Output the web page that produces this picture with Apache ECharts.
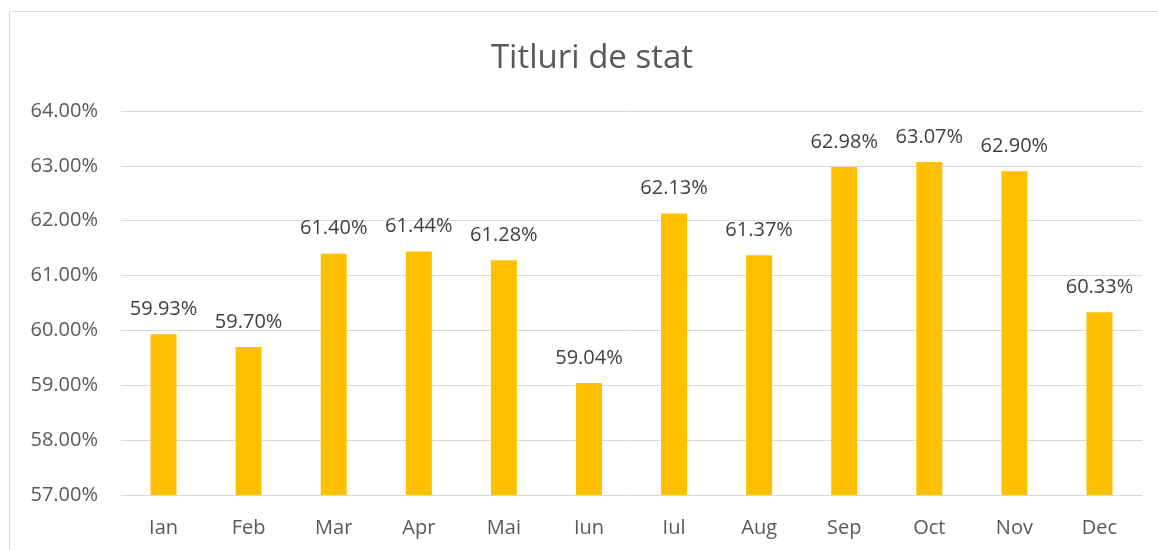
<!DOCTYPE html>
<html>
<head>
<meta charset="utf-8">
<script src="https://cdn.jsdelivr.net/npm/echarts@6/dist/echarts.min.js"></script>
<style>
  html, body { margin: 0; padding: 0; background: #fff; }
  #chart { width: 1158px; height: 550px; }
</style>
</head>
<body>
<div id="chart"></div>
<script>
// data
const months = ['Ian', 'Feb', 'Mar', 'Apr', 'Mai', 'Iun', 'Iul', 'Aug', 'Sep', 'Oct', 'Nov', 'Dec'];
const values = [59.93, 59.70, 61.40, 61.44, 61.28, 59.04, 62.13, 61.37, 62.98, 63.07, 62.90, 60.33];

var chart = echarts.init(document.getElementById('chart'));

var option = {
    animation: false,
    textStyle: { fontFamily: 'Open Sans' },
    title: {
        text: 'Titluri de stat',
        left: 587,
        top: 37,
        textAlign: 'center',
        textStyle: { fontFamily: 'Open Sans', fontSize: 33, fontWeight: 'normal', color: '#595959' }
    },
    graphic: [{
        type: 'rect',
        shape: { x: 9.5, y: 11.5, width: 1300, height: 700 },
        style: { fill: 'none', stroke: '#d9d9d9', lineWidth: 1 },
        silent: true
    }],
    grid: { left: 121, right: 16, top: 111, bottom: 55 },
    xAxis: {
        type: 'category',
        data: months,
        axisLine: { show: false },
        axisTick: { show: false },
        axisLabel: { color: '#595959', fontSize: 20, margin: 23 }
    },
    yAxis: {
        type: 'value',
        min: 57,
        max: 64,
        interval: 1,
        axisLine: { show: false },
        axisTick: { show: false },
        splitLine: { lineStyle: { color: '#d9d9d9', width: 1 } },
        axisLabel: {
            color: '#595959', fontSize: 20, margin: 23,
            formatter: v => v.toFixed(2) + '%'
        }
    },
    series: [{
        type: 'bar',
        data: values,
        barWidth: 26,
        itemStyle: { color: '#FFC000' },
        label: {
            show: true,
            position: 'top',
            distance: 15,
            color: '#404040',
            fontSize: 20,
            formatter: p => p.value.toFixed(2) + '%'
        }
    }]
};

chart.setOption(option);
</script>
</body>
</html>
